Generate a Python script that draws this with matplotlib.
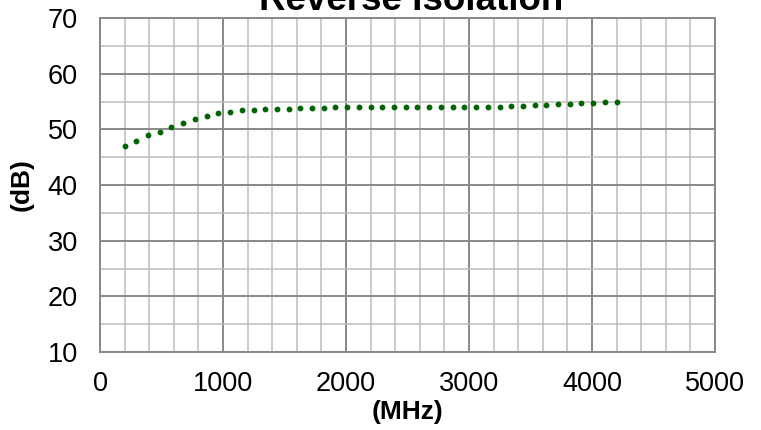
import matplotlib
matplotlib.use("Agg")
import matplotlib.pyplot as plt
from matplotlib.ticker import MultipleLocator

plt.rcParams['font.family'] = ['Liberation Sans', 'DejaVu Sans']

# --- Data ---
freq_mhz = [200, 295, 390, 486, 581, 676, 771, 867, 962, 1057,
            1152, 1248, 1343, 1438, 1533, 1629, 1724, 1819, 1914, 2010,
            2105, 2200, 2295, 2390, 2486, 2581, 2676, 2771, 2867, 2962,
            3057, 3152, 3248, 3343, 3438, 3533, 3629, 3724, 3819, 3914,
            4010, 4105, 4200]
isolation_db = [47.0, 47.9, 48.9, 49.6, 50.4, 51.1, 51.8, 52.4, 53.0, 53.2,
                53.4, 53.5, 53.6, 53.7, 53.7, 53.8, 53.9, 53.9, 54.0, 54.0,
                54.0, 54.0, 54.0, 54.0, 54.0, 54.0, 54.0, 54.0, 54.0, 54.0,
                54.0, 54.0, 54.1, 54.2, 54.2, 54.3, 54.4, 54.5, 54.6, 54.7,
                54.8, 54.9, 55.0]

x_ticks = [0, 1000, 2000, 3000, 4000, 5000]
y_ticks = [10, 20, 30, 40, 50, 60, 70]

# --- Figure ---
fig = plt.figure(figsize=(7.61, 4.30), dpi=100)
ax = fig.add_axes([100 / 761, 1 - 352 / 430, 615 / 761, 334 / 430])

ax.plot(freq_mhz, isolation_db, linestyle='none', marker='o',
        markersize=4.2, color='#006400', markeredgewidth=0, zorder=3)

ax.set_xlim(0, 5000)
ax.set_ylim(10, 70)
ax.set_xticks(x_ticks)
ax.set_yticks(y_ticks)
ax.xaxis.set_minor_locator(MultipleLocator(200))
ax.yaxis.set_minor_locator(MultipleLocator(5))

ax.grid(which='major', color='#888888', linewidth=1.4)
ax.grid(which='minor', color='#bdbdbd', linewidth=1.1)
ax.set_axisbelow(True)

for s in ax.spines.values():
    s.set_color('#888888')
    s.set_linewidth(1.4)

ax.tick_params(which='both', length=0)
ax.tick_params(axis='x', labelsize=19.5, pad=14)
ax.tick_params(axis='y', labelsize=19.5, pad=16)

ax.set_xlabel("(MHz)", fontsize=19, fontweight='bold', labelpad=2)
ax.set_ylabel("(dB)", fontsize=19, fontweight='bold', labelpad=10)
fig.text(0.5396, 1 - 1 / 430, "Reverse Isolation", fontsize=26.5,
         fontweight='bold', ha='center', va='center')

fig.savefig("out.png", dpi=100)
